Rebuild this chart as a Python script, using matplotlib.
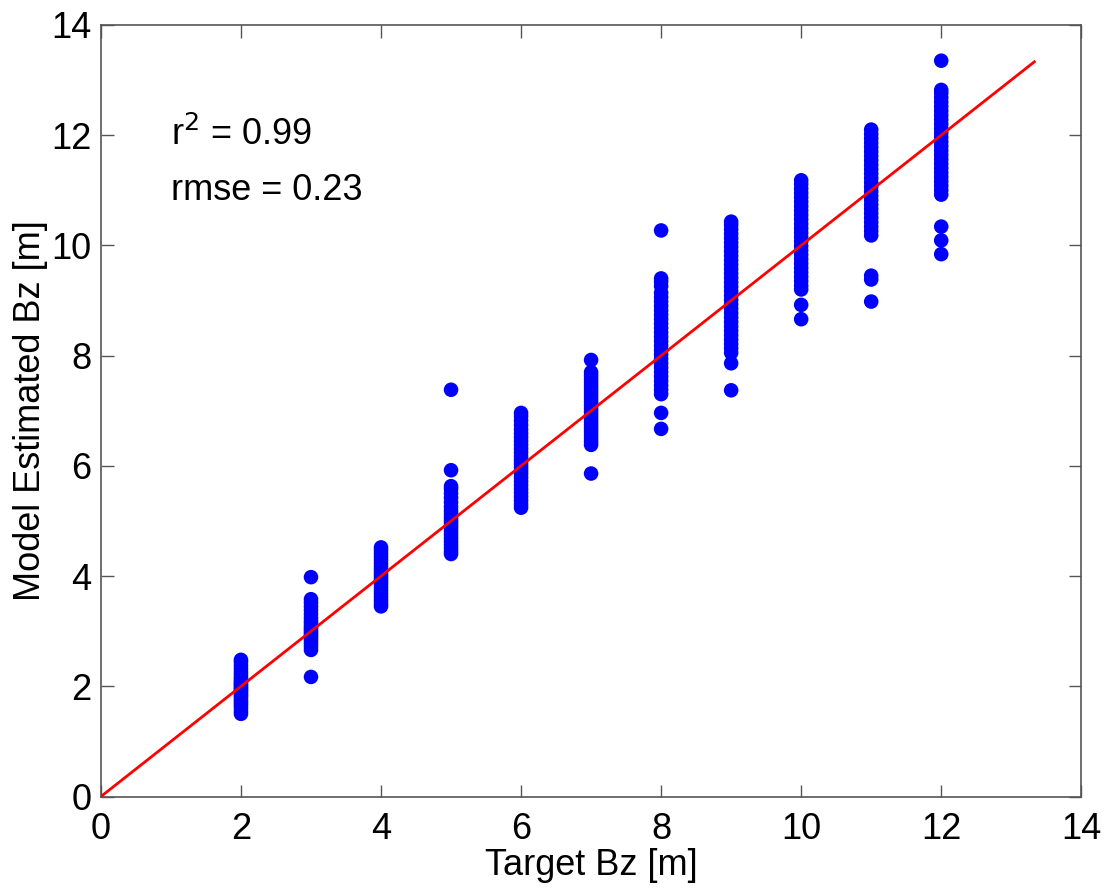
import numpy as np
import matplotlib
matplotlib.use("Agg")
import matplotlib.pyplot as plt

plt.rcParams['font.family'] = ['Liberation Sans', 'DejaVu Sans']

# target Bz (m) and model estimates, one list per target
target = [2, 3, 4, 5, 6, 7, 8, 9, 10, 11, 12]
est_2 = [1.50, 1.55, 1.61, 1.66, 1.70, 1.74, 1.79, 1.83, 1.86, 1.90, 1.93, 1.96,
         1.99, 2.02, 2.05, 2.08, 2.12, 2.16, 2.21, 2.26, 2.32, 2.38, 2.44, 2.48]
est_3 = [2.17, 2.66, 2.72, 2.78, 2.83, 2.88, 2.92, 2.96, 3.00, 3.04, 3.08, 3.13,
         3.18, 3.24, 3.31, 3.38, 3.45, 3.52, 3.58, 3.98]
est_4 = [3.45, 3.50, 3.56, 3.62, 3.68, 3.74, 3.80, 3.86, 3.91, 3.96, 4.01, 4.06,
         4.11, 4.17, 4.23, 4.29, 4.35, 4.41, 4.47, 4.52]
est_5 = [4.40, 4.45, 4.51, 4.57, 4.63, 4.69, 4.75, 4.81, 4.87, 4.92, 4.97, 5.02,
         5.07, 5.13, 5.19, 5.26, 5.34, 5.42, 5.50, 5.58, 5.63, 5.92, 7.38]
est_6 = [5.24, 5.30, 5.37, 5.44, 5.51, 5.58, 5.65, 5.72, 5.79, 5.86, 5.92, 5.98,
         6.04, 6.10, 6.17, 6.24, 6.31, 6.38, 6.45, 6.52, 6.59, 6.66, 6.74, 6.82,
         6.90, 6.96]
est_7 = [5.86, 6.38, 6.44, 6.50, 6.56, 6.62, 6.68, 6.74, 6.80, 6.86, 6.92, 6.98,
         7.04, 7.10, 7.16, 7.22, 7.28, 7.34, 7.40, 7.46, 7.52, 7.58, 7.64, 7.70, 7.92]
est_8 = [6.67, 6.96, 7.30, 7.38, 7.46, 7.54, 7.62, 7.70, 7.78, 7.86, 7.94, 8.02,
         8.10, 8.18, 8.26, 8.34, 8.42, 8.50, 8.58, 8.66, 8.74, 8.82, 8.90, 8.98,
         9.06, 9.14, 9.26, 9.34, 9.40, 10.27]
est_9 = [7.37, 7.86, 8.05, 8.13, 8.21, 8.29, 8.37, 8.45, 8.53, 8.61, 8.69, 8.77,
         8.85, 8.93, 9.01, 9.09, 9.17, 9.25, 9.33, 9.41, 9.49, 9.57, 9.65, 9.73,
         9.81, 9.89, 9.97, 10.05, 10.13, 10.21, 10.29, 10.37, 10.43]
est_10 = [8.66, 8.92, 9.20, 9.27, 9.35, 9.43, 9.51, 9.59, 9.67, 9.75, 9.83, 9.91,
          9.99, 10.07, 10.15, 10.23, 10.31, 10.39, 10.47, 10.55, 10.63, 10.71,
          10.79, 10.87, 10.95, 11.03, 11.11, 11.18]
est_11 = [8.98, 9.38, 9.45, 10.18, 10.26, 10.34, 10.42, 10.50, 10.58, 10.66, 10.74,
          10.82, 10.90, 10.98, 11.06, 11.14, 11.22, 11.30, 11.38, 11.46, 11.54,
          11.62, 11.70, 11.78, 11.86, 11.94, 12.02, 12.10]
est_12 = [9.84, 10.09, 10.34, 10.92, 11.00, 11.08, 11.16, 11.24, 11.32, 11.40, 11.48,
          11.56, 11.64, 11.72, 11.80, 11.88, 11.96, 12.04, 12.12, 12.20, 12.28,
          12.36, 12.44, 12.52, 12.60, 12.68, 12.76, 12.82, 13.35]
estimates = [est_2, est_3, est_4, est_5, est_6, est_7, est_8, est_9, est_10, est_11, est_12]

fit_line = [0, 13.33]
ticks = [0, 2, 4, 6, 8, 10, 12, 14]

fig = plt.figure(figsize=(11.09, 8.88), dpi=100)
ax = fig.add_axes([0.091, 0.103, 0.884, 0.869])

for t, est in zip(target, estimates):
    ax.scatter([t] * len(est), est, s=110, color='#0000ff', edgecolors='none', zorder=2)

ax.plot(fit_line, fit_line, color='#ff0000', lw=2, zorder=3)

ax.text(1.0, 12.0, r'r$^2$ = 0.99', fontsize=26, va='center')
ax.text(1.0, 11.0, 'rmse = 0.23', fontsize=26, va='center')

ax.set_xlim(0, 14)
ax.set_ylim(0, 14)
ax.set_xticks(ticks)
ax.set_yticks(ticks)
ax.tick_params(direction='in', length=9, width=1, color='#555555', labelsize=26,
               top=True, right=True)
ax.tick_params(axis='x', pad=11)
ax.tick_params(axis='y', pad=7)
for sp in ax.spines.values():
    sp.set_color('#555555')
    sp.set_linewidth(1.2)

ax.set_xlabel('Target Bz [m]', fontsize=26, labelpad=1)
ax.set_ylabel('Model Estimated Bz [m]', fontsize=26, labelpad=2)

fig.savefig('out.png', dpi=100)
